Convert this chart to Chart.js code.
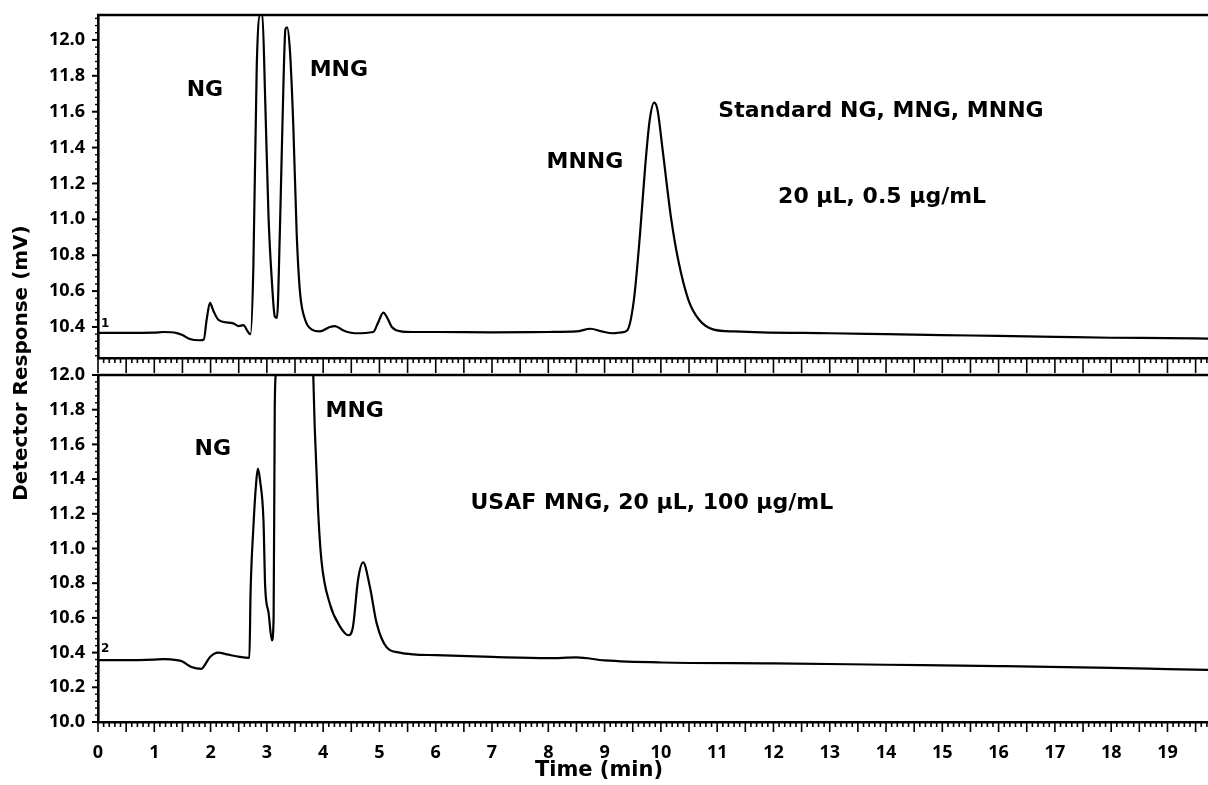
<!DOCTYPE html>
<html><head><meta charset="utf-8">
<script src="https://cdn.jsdelivr.net/npm/chart.js@4.4.1/dist/chart.umd.min.js"></script>
<style>
html,body{margin:0;padding:0;background:#fff;}
#wrap{position:relative;width:1208px;height:785px;overflow:hidden;}
canvas{position:absolute;left:0;top:0;}
</style></head><body>
<div id="wrap"><canvas id="cTop" width="1208" height="785"></canvas><canvas id="cBot" width="1208" height="785"></canvas></div>
<script>
// ---- data ----
const timeStd = [0, 0.5, 1.0, 1.16, 1.4, 1.5, 1.63, 1.81, 1.88, 1.93, 1.99, 2.05, 2.14, 2.4, 2.5, 2.58, 2.67, 2.71, 2.76, 2.82, 2.88, 2.92, 2.97, 3.03, 3.09, 3.14, 3.18, 3.23, 3.28, 3.33, 3.36, 3.41, 3.47, 3.53, 3.59, 3.68, 3.8, 3.94, 4.12, 4.21, 4.36, 4.56, 4.89, 4.97, 5.07, 5.14, 5.22, 5.36, 5.6, 6.0, 7.0, 8.0, 8.5, 8.75, 8.95, 9.15, 9.3, 9.4, 9.52, 9.63, 9.72, 9.8, 9.88, 9.94, 10.03, 10.18, 10.31, 10.49, 10.68, 10.94, 11.3, 11.78, 13, 14, 15, 16, 17, 18, 19, 19.72];
const respStd = [10.367, 10.367, 10.368, 10.372, 10.366, 10.355, 10.333, 10.326, 10.33, 10.44, 10.534, 10.49, 10.44, 10.42, 10.405, 10.41, 10.37, 10.36, 10.73, 11.85, 12.14, 12.14, 11.67, 11.01, 10.65, 10.46, 10.45, 10.92, 11.57, 12.06, 12.07, 11.94, 11.52, 10.92, 10.59, 10.44, 10.385, 10.375, 10.40, 10.405, 10.38, 10.365, 10.372, 10.42, 10.48, 10.45, 10.40, 10.377, 10.372, 10.372, 10.37, 10.372, 10.375, 10.39, 10.375, 10.365, 10.37, 10.38, 10.55, 10.92, 11.29, 11.55, 11.65, 11.61, 11.39, 11.01, 10.77, 10.55, 10.44, 10.385, 10.375, 10.37, 10.365, 10.36, 10.355, 10.35, 10.345, 10.34, 10.338, 10.335];
const timeUsaf = [0, 0.5, 1.0, 1.16, 1.4, 1.49, 1.66, 1.84, 1.9, 1.99, 2.14, 2.29, 2.52, 2.69, 2.71, 2.76, 2.81, 2.84, 2.88, 2.94, 2.97, 3.03, 3.09, 3.12, 3.14, 3.16, 3.2, 3.75, 3.82, 3.85, 3.91, 3.97, 4.12, 4.3, 4.45, 4.53, 4.62, 4.71, 4.83, 4.95, 5.13, 5.36, 5.6, 6.0, 7.0, 8.0, 8.5, 9.0, 10, 12, 14, 16, 18, 19, 19.72];
const respUsaf = [10.357, 10.357, 10.36, 10.362, 10.357, 10.35, 10.317, 10.306, 10.33, 10.375, 10.40, 10.39, 10.375, 10.37, 10.74, 11.12, 11.38, 11.46, 11.39, 11.16, 10.78, 10.63, 10.47, 10.6, 11.8, 12.05, 13, 13, 12.05, 11.7, 11.22, 10.93, 10.68, 10.55, 10.50, 10.55, 10.82, 10.92, 10.78, 10.57, 10.43, 10.40, 10.39, 10.385, 10.375, 10.368, 10.372, 10.355, 10.343, 10.338, 10.33, 10.322, 10.312, 10.305, 10.30];
const xTicks = [0,1,2,3,4,5,6,7,8,9,10,11,12,13,14,15,16,17,18,19];
const yTicksTop = [10.4,10.6,10.8,11.0,11.2,11.4,11.6,11.8,12.0];
const yTicksBottom = [10.0,10.2,10.4,10.6,10.8,11.0,11.2,11.4,11.6,11.8,12.0];
const labelsTop = ['NG','MNG','MNNG','Standard NG, MNG, MNNG','20 µL, 0.5 µg/mL'];
const labelsBottom = ['NG','MNG','USAF MNG, 20 µL, 100 µg/mL'];

// ---- styling / layout ----
Chart.defaults.font.family = "'Open Sans', 'Noto Sans', sans-serif";
Chart.defaults.color = '#000';
const NOTE_FONT = "'DejaVu Sans', 'Open Sans', sans-serif";

const decor = {
  id: 'decor',
  afterDatasetsDraw(chart, args, o) {
    const ctx = chart.ctx, xs = chart.scales.x, ys = chart.scales.y, ca = chart.chartArea;
    ctx.save();
    ctx.strokeStyle = '#000';
    // x ticks
    ctx.lineWidth = 1.6;
    const n0 = Math.ceil(xs.min / o.xMinor - 1e-9), n1 = Math.floor(xs.max / o.xMinor + 1e-9);
    for (let i = n0; i <= n1; i++) {
      const v = i * o.xMinor;
      const r = v / o.xMajor;
      const major = Math.abs(r - Math.round(r)) < 1e-6;
      const px = xs.getPixelForValue(v);
      ctx.beginPath();
      ctx.moveTo(px, ca.bottom);
      ctx.lineTo(px, ca.bottom + (major ? o.xMajorLen : o.xMinorLen));
      ctx.stroke();
    }
    // y ticks
    const m0 = Math.ceil(ys.min / o.yMinor - 1e-9), m1 = Math.floor(ys.max / o.yMinor + 1e-9);
    for (let i = m0; i <= m1; i++) {
      const v = i * o.yMinor;
      const r = v / o.yMajor;
      const major = Math.abs(r - Math.round(r)) < 1e-6;
      const py = ys.getPixelForValue(v);
      ctx.lineWidth = major ? 2 : 1.4;
      ctx.beginPath();
      ctx.moveTo(ca.left, py);
      ctx.lineTo(ca.left - (major ? o.yMajorLen : o.yMinorLen), py);
      ctx.stroke();
    }
    // top frame line
    ctx.lineWidth = 2.4;
    ctx.beginPath();
    ctx.moveTo(ca.left - 1, ca.top);
    ctx.lineTo(ca.right, ca.top);
    ctx.stroke();
    // annotations in data coordinates
    ctx.fillStyle = '#000';
    ctx.textAlign = 'center';
    ctx.textBaseline = 'middle';
    (o.notes || []).forEach(n => {
      ctx.font = 'bold ' + n.size + 'px ' + NOTE_FONT;
      ctx.fillText(n.text, xs.getPixelForValue(n.x), ys.getPixelForValue(n.y));
    });
    // trace marker
    if (o.marker) {
      ctx.font = 'bold 12px ' + NOTE_FONT;
      ctx.textAlign = 'left';
      ctx.fillText(o.marker.text, ca.left + 3, ys.getPixelForValue(o.marker.y));
    }
    // axis titles
    (o.titles || []).forEach(t => {
      ctx.save();
      ctx.translate(t.x, t.y);
      ctx.rotate(t.rot || 0);
      ctx.textAlign = 'center';
      ctx.textBaseline = 'middle';
      ctx.font = 'bold ' + t.size + 'px ' + NOTE_FONT;
      ctx.fillText(t.text, 0, 0);
      ctx.restore();
    });
    ctx.restore();
  }
};

function lineDataset(xsArr, ysArr) {
  return {
    data: xsArr.map((t, i) => ({x: t, y: ysArr[i]})),
    borderColor: '#000',
    borderWidth: 2.2,
    pointRadius: 0,
    fill: false,
    cubicInterpolationMode: 'monotone',
    clip: 1
  };
}

const commonGrid = {drawOnChartArea: false, drawTicks: false};
const commonBorder = {display: true, color: '#000', width: 2.6};
const noPad = s => { s.paddingTop = 0; s.paddingBottom = 0; s.paddingLeft = 0; s.paddingRight = 0; };

new Chart(document.getElementById('cTop'), {
  type: 'line',
  data: {datasets: [lineDataset(timeStd, respStd)]},
  options: {
    responsive: false, animation: false, events: [],
    layout: {padding: {top: 15, bottom: 413, left: 0, right: 0}, autoPadding: false},
    plugins: {
      legend: {display: false}, tooltip: {enabled: false},
      decor: {
        xMinor: 0.1, xMajor: 0.5, xMinorLen: 5, xMajorLen: 15,
        yMinor: 0.04, yMajor: 0.2, yMinorLen: 3, yMajorLen: 6,
        notes: [
          {text: labelsTop[0], x: 1.90, y: 11.72, size: 22},
          {text: labelsTop[1], x: 4.28, y: 11.83, size: 22},
          {text: labelsTop[2], x: 8.65, y: 11.32, size: 22},
          {text: labelsTop[3], x: 13.91, y: 11.60, size: 22},
          {text: labelsTop[4], x: 13.93, y: 11.125, size: 22}
        ],
        marker: {text: '1', y: 10.42},
        titles: [
          {text: 'Detector Response (mV)', x: 22, y: 363, size: 20, rot: -Math.PI / 2},
          {text: 'Time (min)', x: 599, y: 771, size: 21}
        ]
      }
    },
    scales: {
      x: {
        type: 'linear', min: 0, max: 19.72,
        afterFit: s => { s.height = 14; noPad(s); },
        ticks: {display: false},
        grid: commonGrid, border: commonBorder
      },
      y: {
        type: 'linear', min: 10.227, max: 12.139,
        afterBuildTicks: s => { s.ticks = yTicksTop.map(v => ({value: v})); },
        afterFit: s => { s.width = 98; noPad(s); },
        ticks: {padding: 13, font: {size: 18, weight: 'bold'}, color: '#000', callback: v => Number(v).toFixed(1)},
        grid: commonGrid, border: commonBorder
      }
    }
  },
  plugins: [decor]
});

new Chart(document.getElementById('cBot'), {
  type: 'line',
  data: {datasets: [lineDataset(timeUsaf, respUsaf)]},
  options: {
    responsive: false, animation: false, events: [],
    layout: {padding: {top: 375, bottom: 0, left: 0, right: 0}, autoPadding: false},
    plugins: {
      legend: {display: false}, tooltip: {enabled: false},
      decor: {
        xMinor: 0.1, xMajor: 0.5, xMinorLen: 5, xMajorLen: 10,
        yMinor: 0.04, yMajor: 0.2, yMinorLen: 3, yMajorLen: 6,
        notes: [
          {text: labelsBottom[0], x: 2.04, y: 11.57, size: 22},
          {text: labelsBottom[1], x: 4.56, y: 11.79, size: 22},
          {text: labelsBottom[2], x: 9.84, y: 11.26, size: 22}
        ],
        marker: {text: '2', y: 10.42}
      }
    },
    scales: {
      x: {
        type: 'linear', min: 0, max: 19.72,
        afterBuildTicks: s => { s.ticks = xTicks.map(v => ({value: v})); },
        afterFit: s => { s.height = 63; noPad(s); },
        ticks: {padding: 20, autoSkip: false, maxRotation: 0, font: {size: 18, weight: 'bold'}, color: '#000', callback: v => String(v)},
        grid: commonGrid, border: commonBorder
      },
      y: {
        type: 'linear', min: 10.0, max: 12.0,
        afterBuildTicks: s => { s.ticks = yTicksBottom.map(v => ({value: v})); },
        afterFit: s => { s.width = 98; noPad(s); },
        ticks: {padding: 13, font: {size: 18, weight: 'bold'}, color: '#000', callback: v => Number(v).toFixed(1)},
        grid: commonGrid, border: commonBorder
      }
    }
  },
  plugins: [decor]
});
</script>
</body></html>
